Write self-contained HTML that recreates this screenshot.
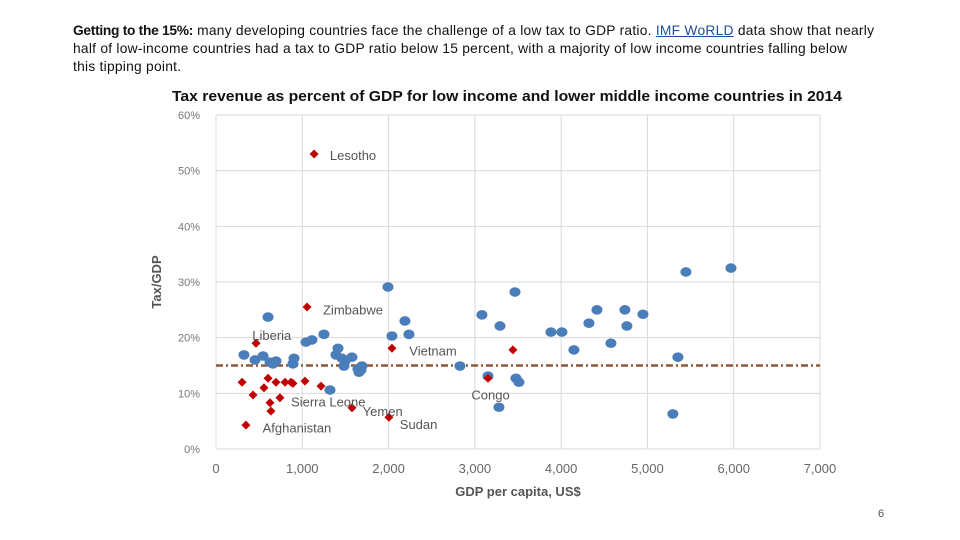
<!DOCTYPE html>
<html><head><meta charset="utf-8"><style>
body{margin:0;width:960px;height:540px;background:#fff;font-family:"Liberation Sans",sans-serif;overflow:hidden;position:relative}
#intro{position:absolute;left:73px;top:22px;width:870px;font-size:13.8px;line-height:18px;color:#111;white-space:nowrap;letter-spacing:0.25px}
#intro a{color:#1f4e9c;text-decoration:underline}
#pn{position:absolute;left:878px;top:508px;font-size:11px;color:#555}
svg{position:absolute;left:0;top:0}
</style></head><body>
<div id="intro"><b style="letter-spacing:-0.3px">Getting to the 15%:</b> many developing countries face the challenge of a low tax to GDP ratio. <a>IMF WoRLD</a> data show that nearly<br>half of low-income countries had a tax to GDP ratio below 15 percent, with a majority of low income countries falling below<br>this tipping point.</div>
<div id="pn">6</div>
<svg id="chart" width="960" height="540">
<text x="507" y="101" text-anchor="middle" font-size="15" font-weight="bold" fill="#111" textLength="670" lengthAdjust="spacingAndGlyphs">Tax revenue as percent of GDP for low income and lower middle income countries in 2014</text>
<g id="grid"></g><g id="marks"></g><g id="labs"></g>
<text transform="translate(161,282) rotate(-90)" text-anchor="middle" font-size="13" font-weight="bold" fill="#555">Tax/GDP</text>
<text x="518" y="496" text-anchor="middle" font-size="13" font-weight="bold" fill="#555">GDP per capita, US$</text>
</svg>
<script>
const xTicks=[0,1000,2000,3000,4000,5000,6000,7000];
const xTickLabels=["0","1,000","2,000","3,000","4,000","5,000","6,000","7,000"];
const yTicks=[0,10,20,30,40,50,60];
const yTickLabels=["0%","10%","20%","30%","40%","50%","60%"];
const threshold=15;
const blueX=[324,452,545,603,626,695,660,904,892,1043,1112,1251,1321,1390,1414,1460,1483,1495,1576,1657,1692,1680,1645,1993,2039,2190,2236,2827,3082,3152,3291,3465,3476,3511,3279,3882,4009,4148,4322,4415,4577,4739,4762,4948,5295,5353,5446,5968];
const blueY=[16.9,16.0,16.7,23.7,15.6,15.8,15.3,16.3,15.3,19.2,19.6,20.6,10.6,16.9,18.1,16.3,14.9,15.8,16.5,13.8,14.9,14.2,14.4,29.1,20.3,23.0,20.6,14.9,24.1,13.1,22.1,28.2,12.7,12.0,7.5,21.0,21.0,17.8,22.6,25.0,19.0,25.0,22.1,24.2,6.3,16.5,31.8,32.5];
const redX=[1137,1055,464,2039,3441,3152,302,429,603,695,800,869,892,1031,1217,626,637,741,1576,2004,347,556];
const redY=[53.0,25.5,19.0,18.1,17.8,12.7,12.0,9.7,12.7,12.0,12.0,12.0,11.8,12.2,11.3,8.3,6.8,9.2,7.4,5.7,4.3,11.0];
const labelNames=["Lesotho","Zimbabwe","Liberia","Vietnam","Congo","Sierra Leone","Yemen","Sudan","Afghanistan"];
const labelX=[1320,1240,420,2240,2960,870,1700,2130,540];
const labelY=[52.8,25.1,20.5,17.7,9.8,8.5,6.8,4.5,3.9];
const X0=216,X1=820,Y0=449,Y1=115;
const sx=v=>X0+(v-0)/7000*(X1-X0), sy=v=>Y0-(v/60)*(Y0-Y1);
const NS="http://www.w3.org/2000/svg";
function mk(t,a,p){const e=document.createElementNS(NS,t);for(const k in a)e.setAttribute(k,a[k]);p.appendChild(e);return e;}
const g=document.getElementById('grid'),m=document.getElementById('marks'),l=document.getElementById('labs');
xTicks.forEach((v,i)=>{const ln=mk('line',{x1:sx(v),x2:sx(v),y1:Y1,y2:Y0,stroke:'#d9d9d9','stroke-width':1},g);

const t=mk('text',{x:sx(v),y:Y0+24,'text-anchor':'middle','font-size':13,fill:'#666'},g);t.textContent=xTickLabels[i];
});
yTicks.forEach((v,i)=>{const ln=mk('line',{x1:X0,x2:X1,y1:sy(v),y2:sy(v),stroke:'#d9d9d9','stroke-width':1},g);

const t=mk('text',{x:200,y:sy(v)+4,'text-anchor':'end','font-size':11,fill:'#777'},g);t.textContent=yTickLabels[i];
});
const th=mk('line',{x1:X0,x2:X1,y1:sy(threshold),y2:sy(threshold),stroke:'#8b5a3c','stroke-width':2.5,'stroke-dasharray':'7 3 2 3'},m);

blueX.forEach((v,i)=>{const c=mk('ellipse',{cx:sx(v),cy:sy(blueY[i]),rx:5.5,ry:4.8,fill:'#4a7ebb'},m);
});
redX.forEach((v,i)=>{const x=sx(v),y=sy(redY[i]);const d=mk('polygon',{points:`${x},${y-4.5} ${x+4.5},${y} ${x},${y+4.5} ${x-4.5},${y}`,fill:'#c00000'},m);
});
labelNames.forEach((n,i)=>{const t=mk('text',{x:sx(labelX[i]),y:sy(labelY[i])+5,'font-size':13,fill:'#555'},l);t.textContent=n;
});
</script>
</body></html>
